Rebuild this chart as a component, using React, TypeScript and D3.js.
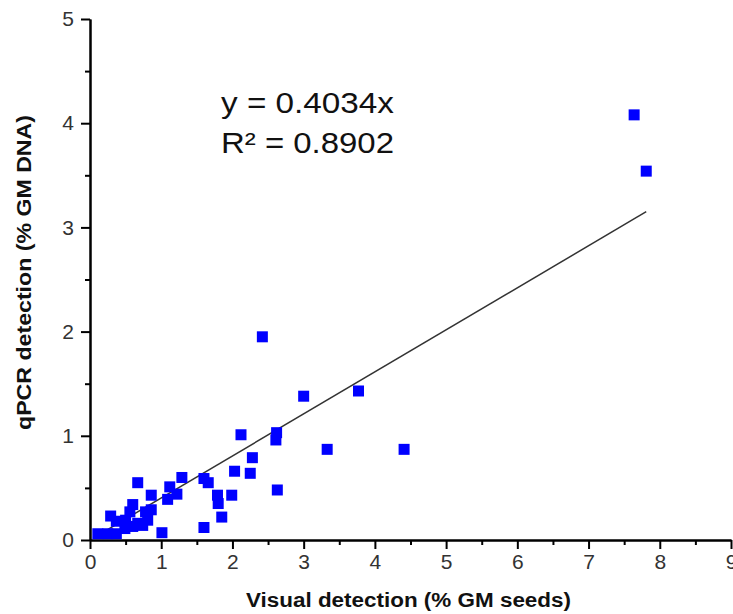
import { useEffect, useRef } from 'react'
import * as d3 from 'd3'

// visual detection (% GM seeds)
const visualPct = [
  0.11, 0.25, 0.37, 0.29, 0.37, 0.49, 0.5, 0.56, 0.6, 0.6, 0.67, 0.67, 0.74, 0.78, 0.81,
  0.86, 0.86, 1.01, 1.09, 1.12, 1.22, 1.29, 1.6, 1.6, 1.66, 1.79, 1.8, 1.85, 1.99, 2.03,
  2.12, 2.25, 2.28, 2.42, 2.61, 2.62, 2.63, 3.0, 3.33, 3.77, 4.41, 7.64, 7.81,
]
// qPCR detection (% GM DNA)
const qpcrPct = [
  0.06, 0.06, 0.06, 0.23, 0.18, 0.11, 0.19, 0.27, 0.34, 0.13, 0.16, 0.55, 0.14, 0.27, 0.19,
  0.29, 0.43, 0.07, 0.39, 0.51, 0.44, 0.6, 0.12, 0.59, 0.55, 0.43, 0.35, 0.22, 0.43, 0.66,
  1.01, 0.64, 0.79, 1.95, 0.96, 1.03, 0.48, 1.38, 0.87, 1.43, 0.87, 4.08, 3.54,
]
const slope = 0.4034
const eqLines = ['y = 0.4034x', 'R² = 0.8902']
const xTicks = [0, 1, 2, 3, 4, 5, 6, 7, 8, 9]
const yTicks = [0, 1, 2, 3, 4, 5]
const xLabel = 'Visual detection (% GM seeds)'
const yLabel = 'qPCR detection (% GM DNA)'

const W = 733
const H = 614

export default function App() {
  const ref = useRef<SVGSVGElement | null>(null)

  useEffect(() => {
    const svg = d3.select(ref.current)
    svg.selectAll('*').remove()
    const font = '"Liberation Sans", Arial, sans-serif'
    const narrow = '"Liberation Sans Narrow", "Arial Narrow", "Liberation Sans", Arial, sans-serif'

    const x = d3.scaleLinear().domain([0, 9]).range([90, 731])
    const y = d3.scaleLinear().domain([0, 5]).range([540, 19])

    const pts = visualPct.map((v, i) => ({ x: v, y: qpcrPct[i] }))

    // minor ticks at the half units
    const xMinor = d3.range(0.5, 9, 1)
    const yMinor = d3.range(0.5, 5, 1)
    const fmt = d3.format('d')

    const xAxis = svg.append('g').attr('transform', `translate(0,${y(0)})`)
    xAxis.call(d3.axisBottom(x).tickValues(xMinor).tickSize(5).tickSizeOuter(0).tickFormat(() => '') as any)
    xAxis.append('g').call(d3.axisBottom(x).tickValues(xTicks).tickSize(9).tickSizeOuter(0).tickPadding(5).tickFormat(fmt as any) as any)

    const yAxis = svg.append('g').attr('transform', `translate(${x(0)},0)`)
    yAxis.call(d3.axisLeft(y).tickValues(yMinor).tickSize(5).tickSizeOuter(0).tickFormat(() => '') as any)
    yAxis.append('g').call(d3.axisLeft(y).tickValues(yTicks).tickSize(9).tickSizeOuter(0).tickPadding(7).tickFormat(fmt as any) as any)

    svg.selectAll('.domain').attr('stroke', '#000').attr('stroke-width', 2)
    svg.selectAll('.tick line').attr('stroke', '#000').attr('stroke-width', 2)
    svg.selectAll('.tick text')
      .attr('fill', '#333')
      .style('font-family', narrow)
      .style('font-size', '21px')

    // fitted line through origin, spanning the data range
    const [x0, x1] = d3.extent(visualPct) as [number, number]
    const line = d3.line<number>().x((d) => x(d)).y((d) => y(d * slope))
    svg.append('path')
      .datum([x0, x1])
      .attr('fill', 'none')
      .attr('stroke', '#333')
      .attr('stroke-width', 1.5)
      .attr('d', line as any)

    const s = 11
    svg.selectAll('rect.pt')
      .data(pts)
      .enter()
      .append('rect')
      .attr('class', 'pt')
      .attr('x', (d) => x(d.x) - s / 2)
      .attr('y', (d) => y(d.y) - s / 2)
      .attr('width', s)
      .attr('height', s)
      .attr('fill', '#0000ff')

    svg.selectAll('text.eq')
      .data(eqLines)
      .enter()
      .append('text')
      .attr('class', 'eq')
      .attr('x', 221)
      .attr('y', (_d, i) => 113 + i * 39.5)
      .attr('textLength', 173)
      .attr('lengthAdjust', 'spacingAndGlyphs')
      .attr('fill', '#111')
      .style('font-family', font)
      .style('font-size', '29px')
      .text((d) => d)

    svg.append('text')
      .attr('x', 246)
      .attr('y', 607)
      .attr('textLength', 325)
      .attr('lengthAdjust', 'spacingAndGlyphs')
      .attr('fill', '#111')
      .style('font-family', font)
      .style('font-size', '20px')
      .style('font-weight', 'bold')
      .text(xLabel)

    svg.append('text')
      .attr('transform', `translate(31,430) rotate(-90)`)
      .attr('textLength', 315)
      .attr('lengthAdjust', 'spacingAndGlyphs')
      .attr('fill', '#111')
      .style('font-family', font)
      .style('font-size', '20px')
      .style('font-weight', 'bold')
      .text(yLabel)
  }, [])

  return (
    <svg
      ref={ref}
      width={W}
      height={H}
      style={{ position: 'absolute', left: 0, top: 0, background: '#fff' }}
    />
  )
}
